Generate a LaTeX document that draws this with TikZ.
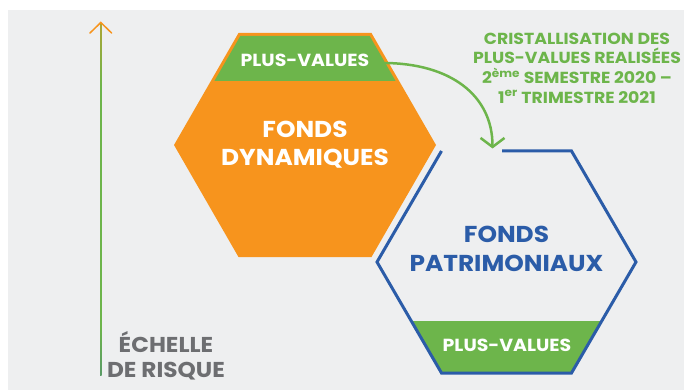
\documentclass[tikz,border=0pt]{standalone}
\usepackage{fontspec}
\setmainfont{Poppins}[FakeStretch=1.08]
\usetikzlibrary{arrows.meta}
\definecolor{orng}{HTML}{F7941D}
\definecolor{grn}{HTML}{6DB54B}
\definecolor{blu}{HTML}{2B5CA8}
\definecolor{gry}{HTML}{6D6E71}
\definecolor{bgc}{HTML}{EEEFF0}
\pgfdeclareverticalshading{riskshade}{100bp}{color(0bp)=(blu); color(8bp)=(blu); color(32bp)=(grn); color(66bp)=(grn); color(86bp)=(orng); color(100bp)=(orng)}
\begin{document}
\begin{tikzpicture}[x=1pt,y=-1pt,
  txt/.style={inner sep=0pt, align=center, font=\bfseries},
  bigw/.style={txt, text=white, font=\bfseries\fontsize{23}{28}\selectfont},
  pv/.style={txt, text=white, font=\bfseries\fontsize{17.5}{22}\selectfont},
  note/.style={txt, text=grn, font=\bfseries\fontsize{16}{19.7}\selectfont},
  scl/.style={txt, text=gry, font=\bfseries\fontsize{21.5}{25}\selectfont}]
\useasboundingbox (0,0) rectangle (684,390);
\fill[white] (0,0) rectangle (684,390);
\fill[bgc] (8,10) rectangle (684,390);
% risk scale arrow
\shade[shading=riskshade] (100,24) rectangle (101.6,375);
\draw[orng, line width=1.5pt, line cap=round, line join=miter] (90,33) -- (100.8,22.5) -- (111.6,33);
\node[scl] (scale) at (166,355.5) {ÉCHELLE\\DE RISQUE};
% orange hexagon
\fill[orng] (238.5,33) -- (371.5,33) -- (436,145) -- (371.5,257) -- (238.5,257) -- (174,145) -- cycle;
\fill[grn] (240.3,36) -- (369.7,36) -- (395.6,81) -- (214.4,81) -- cycle;
\node[pv] (pv1) at (305,60) {PLUS-VALUES};
\node[bigw] (fd) at (305,145) {FONDS\\DYNAMIQUES};
% blue hexagon
\fill[grn] (411.3,321) -- (601.7,321) -- (571.5,373) -- (441.5,373) -- cycle;
\draw[blu, line width=3pt, line join=miter] (502,151) -- (571.5,151) -- (636,262) -- (571.5,373) -- (441.5,373) -- (377,262) -- (441.5,151);
\node[txt, text=blu, font=\bfseries\fontsize{23}{29}\selectfont] (fp) at (506.5,249) {FONDS\\PATRIMONIAUX};
\node[pv] (pv2) at (507,345) {PLUS-VALUES};
% note
\node[note] (nt) at (577,68) {CRISTALLISATION DES\\PLUS-VALUES REALISÉES\\2\textsuperscript{ème} SEMESTRE 2020 –\\1\textsuperscript{er} TRIMESTRE 2021};
% transfer arrow
\coordinate (a1) at (383,63);
\coordinate (a2) at (492.5,148.5);
\draw[grn, line width=2.5pt, -{Straight Barb[length=9pt,width=24pt,line width=2.5pt]}] (a1) .. controls (450,63) and (492.5,95) .. (a2);
\end{tikzpicture}
\end{document}
